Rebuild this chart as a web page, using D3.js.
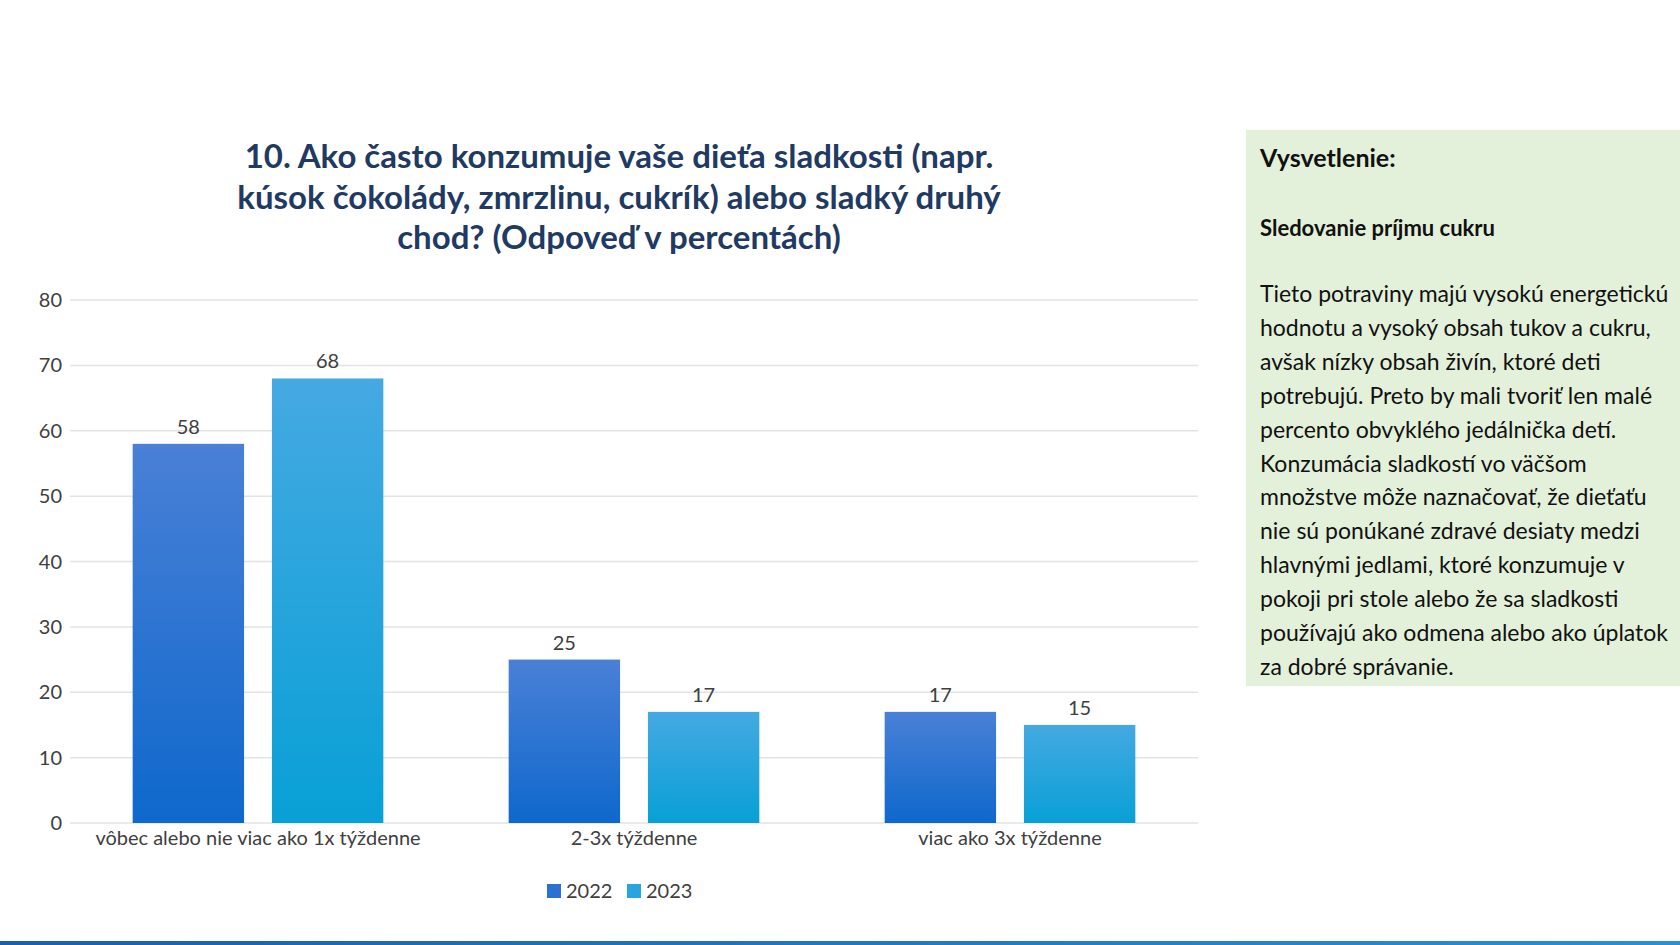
<!DOCTYPE html>
<html><head><meta charset="utf-8">
<script src="https://cdn.jsdelivr.net/npm/d3@7"></script>
<style>body{margin:0;background:#fff;overflow:hidden}svg{display:block;font-family:Lato,"Open Sans",sans-serif}</style>
</head><body><svg id="c" width="1680" height="945"></svg>
<script>
const categories=["vôbec alebo nie viac ako 1x týždenne","2-3x týždenne","viac ako 3x týždenne"];
const seriesNames=["2022","2023"];
const values2022=[58,25,17];
const values2023=[68,17,15];
const yTicks=[0,10,20,30,40,50,60,70,80];
const titleLines=["10. Ako často konzumuje vaše dieťa sladkosti (napr.","kúsok čokolády, zmrzlinu, cukrík) alebo sladký druhý","chod? (Odpoveď v percentách)"];
const panelLines=["Tieto potraviny majú vysokú energetickú","hodnotu a vysoký obsah tukov a cukru,","avšak nízky obsah živín, ktoré deti","potrebujú. Preto by mali tvoriť len malé","percento obvyklého jedálnička detí.","Konzumácia sladkostí vo väčšom","množstve môže naznačovať, že dieťaťu","nie sú ponúkané zdravé desiaty medzi","hlavnými jedlami, ktoré konzumuje v","pokoji pri stole alebo že sa sladkosti","používajú ako odmena alebo ako úplatok","za dobré správanie."];
const svg=d3.select("#c");
const defs=svg.append("defs");
const g1=defs.append("linearGradient").attr("id","g22").attr("x1",0).attr("y1",0).attr("x2",0).attr("y2",1);
g1.append("stop").attr("offset","0").attr("stop-color","#4a80d6");g1.append("stop").attr("offset","1").attr("stop-color","#0e68cc");
const g2=defs.append("linearGradient").attr("id","g23").attr("x1",0).attr("y1",0).attr("x2",0).attr("y2",1);
g2.append("stop").attr("offset","0").attr("stop-color","#45a9e2");g2.append("stop").attr("offset","1").attr("stop-color","#08a0d6");
const bl=defs.append("linearGradient").attr("id","bl");
bl.append("stop").attr("offset","0").attr("stop-color","#1b5fa8");bl.append("stop").attr("offset","1").attr("stop-color","#2a8fd0");
const fills=["url(#g22)","url(#g23)"],legCol=["#2a72d0","#2aa4de"];

svg.append("g").selectAll("text").data(titleLines).join("text")
 .attr("x",619).attr("y",(d,i)=>168+i*40.5).attr("text-anchor","middle")
 .attr("font-size",33).attr("font-weight",700).attr("fill","#1f3a63").text(d=>d);

const x0=d3.scaleBand().domain(categories).range([70,1198]);
const x1=d3.scaleBand().domain(seriesNames).range([0,x0.bandwidth()]).paddingInner(0.2).paddingOuter(0.45);
const y=d3.scaleLinear().domain([0,80]).range([823,300]);
svg.append("g").selectAll("line").data(yTicks).join("line")
 .attr("x1",70).attr("x2",1198).attr("y1",d=>y(d)).attr("y2",d=>y(d)).attr("stroke","#e3e3e3").attr("stroke-width",1.5);
svg.append("g").selectAll("text").data(yTicks).join("text")
 .attr("x",62).attr("y",d=>y(d)+7).attr("text-anchor","end").attr("font-size",20).attr("fill","#404040").text(d=>d);
const rows=categories.map((c,i)=>[{c,s:"2022",v:values2022[i],k:0},{c,s:"2023",v:values2023[i],k:1}]).flat();
svg.append("g").selectAll("rect").data(rows).join("rect")
 .attr("x",d=>x0(d.c)+x1(d.s)).attr("width",x1.bandwidth()).attr("y",d=>y(d.v)).attr("height",d=>y(0)-y(d.v)).attr("fill",d=>fills[d.k]);
svg.append("g").selectAll("text").data(rows).join("text")
 .attr("x",d=>x0(d.c)+x1(d.s)+x1.bandwidth()/2).attr("y",d=>y(d.v)-10).attr("text-anchor","middle").attr("font-size",20).attr("fill","#404040").text(d=>d.v);
svg.append("g").selectAll("text").data(categories).join("text")
 .attr("x",d=>x0(d)+x0.bandwidth()/2).attr("y",845).attr("text-anchor","middle").attr("font-size",20).attr("fill","#404040").text(d=>d);
const lg=svg.append("g").selectAll("g").data(seriesNames).join("g").attr("transform",(d,i)=>`translate(${547+i*80},884)`);
lg.append("rect").attr("width",14).attr("height",14).attr("fill",(d,i)=>legCol[i]);
lg.append("text").attr("x",19).attr("y",14).attr("font-size",20).attr("fill","#404040").text(d=>d);

svg.append("rect").attr("x",1246).attr("y",130).attr("width",440).attr("height",556).attr("fill","#e3f0da");
svg.append("text").attr("x",1260).attr("y",167).attr("font-size",25).attr("font-weight",700).attr("fill","#111").text("Vysvetlenie:");
svg.append("text").attr("x",1260).attr("y",236).attr("font-size",22).attr("font-weight",700).attr("fill","#111").text("Sledovanie príjmu cukru");
svg.append("g").selectAll("text").data(panelLines).join("text")
 .attr("x",1260).attr("y",(d,i)=>302+i*33.9).attr("font-size",23).attr("fill","#111").text(d=>d);
svg.append("rect").attr("x",0).attr("y",941).attr("width",1680).attr("height",4).attr("fill","url(#bl)");
</script></body></html>
